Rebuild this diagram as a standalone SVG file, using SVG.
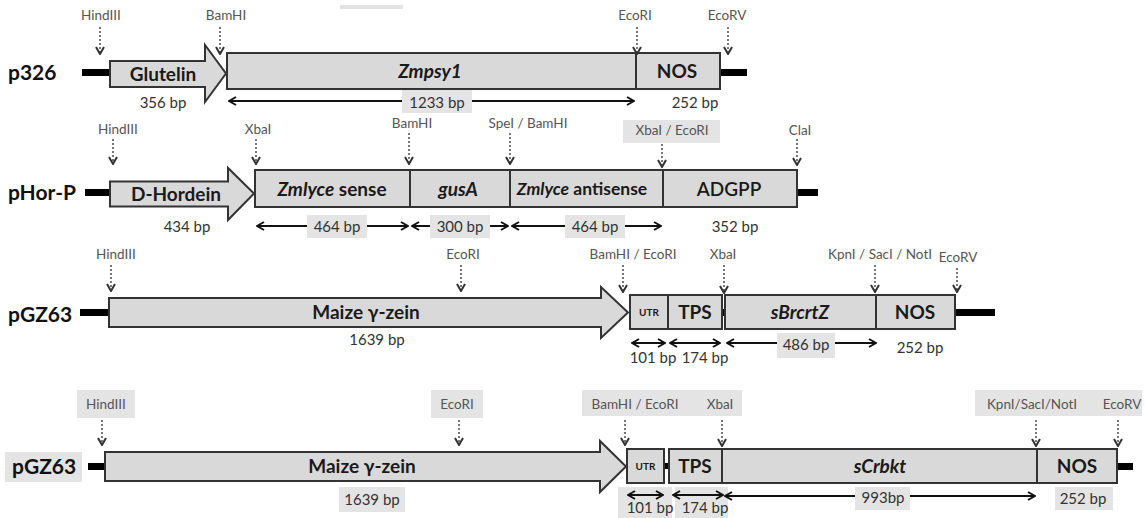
<svg xmlns="http://www.w3.org/2000/svg" width="1145" height="518" viewBox="0 0 1145 518">
<style>
text{font-family:Lato,"Liberation Sans",sans-serif}
.row{font-size:21px;font-weight:bold;fill:#111}
.gene{font-size:19px;font-weight:bold;fill:#1a1a1a;text-anchor:middle}
.it{font-style:italic}
.site{font-size:13.5px;fill:#555;text-anchor:middle}
.bp{font-size:15px;fill:#333;text-anchor:middle}
.box{fill:#d9d9d9;stroke:#333;stroke-width:2}
.bb{fill:#000}
.bg{fill:#e4e4e4}
.dot{stroke:#555;stroke-width:1.6;stroke-dasharray:2 2;fill:none;marker-end:url(#vch)}
.dbl{stroke:#111;stroke-width:2;fill:none;marker-start:url(#ch);marker-end:url(#ch)}
</style>
<defs>
<marker id="ch" viewBox="0 0 10 10" refX="9" refY="5" markerWidth="10" markerHeight="10" markerUnits="userSpaceOnUse" orient="auto-start-reverse">
<path d="M2,1 L9,5 L2,9" fill="none" stroke="#111" stroke-width="2"/>
</marker>
<marker id="vch" viewBox="0 0 10 10" refX="9" refY="5" markerWidth="10" markerHeight="10" markerUnits="userSpaceOnUse" orient="auto">
<path d="M2,1 L9,5 L2,9" fill="none" stroke="#333" stroke-width="2"/>
</marker>
</defs>
<rect x="340" y="5" width="63" height="4" fill="#e2e2e2"/>

<!-- Row 1: p326 -->
<g id="p326">
<text class="row" x="8" y="79.5">p326</text>
<rect class="bb" x="82" y="69" width="29" height="7"/>
<rect class="bb" x="719" y="69" width="28" height="7"/>
</g>
<g id="p326-glutelin">
<polygon class="box" points="110,61 205,61 205,45 226,73.5 205,102 205,87 110,87"/>
<text class="gene" x="163" y="80.5">Glutelin</text>
</g>
<g id="p326-zmpsy1">
<rect class="box" x="227" y="53" width="409" height="36"/>
<text class="gene it" x="430" y="78">Zmpsy1</text>
</g>
<g id="p326-nos">
<rect class="box" x="636" y="53" width="84" height="36"/>
<text class="gene" x="677" y="78">NOS</text>
</g>

<!-- Row 2: pHor-P -->
<g id="pHor-P">
<text class="row" x="8" y="199.5">pHor-P</text>
<rect class="bb" x="85" y="189" width="26" height="7"/>
<rect class="bb" x="796" y="189" width="22" height="7"/>
</g>
<g id="pHor-dhordein">
<polygon class="box" points="110,181.5 228,181.5 228,168 254,193.5 228,220 228,206.5 110,206.5"/>
<text class="gene" x="176" y="201">D-Hordein</text>
</g>
<g id="pHor-sense">
<rect class="box" x="255" y="170" width="155" height="37"/>
<text class="gene" x="332" y="196"><tspan class="it">Zmlyce</tspan> sense</text>
</g>
<g id="pHor-gusA">
<rect class="box" x="410" y="170" width="100" height="37"/>
<text class="gene it" x="458" y="196">gusA</text>
</g>
<g id="pHor-antisense">
<rect class="box" x="510" y="170" width="153" height="37"/>
<text class="gene" x="582" y="195" style="font-size:17.5px"><tspan class="it">Zmlyce</tspan> antisense</text>
</g>
<g id="pHor-adgpp">
<rect class="box" x="663" y="170" width="134" height="37"/>
<text class="gene" x="729" y="196" style="font-weight:600">ADGPP</text>
</g>

<!-- Row 3: pGZ63 -->
<g id="pGZ63-a">
<text class="row" x="8" y="321.5">pGZ63</text>
<rect class="bb" x="80" y="309" width="30" height="7"/>
<rect class="bb" x="954" y="309" width="41" height="7"/>
<rect class="bb" x="722" y="309" width="4" height="7"/>
</g>
<g id="pGZ63-a-zein">
<polygon class="box" points="109,298 601,298 601,287 628,312.5 601,338 601,327 109,327"/>
<text class="gene" x="366" y="319">Maize γ-zein</text>
</g>
<g id="pGZ63-a-utr">
<rect class="box" x="630" y="295" width="38" height="34"/>
<text class="gene" x="649" y="316" style="font-size:10px">UTR</text>
</g>
<g id="pGZ63-a-tps">
<rect class="box" x="668" y="295" width="54" height="34"/>
<text class="gene" x="695" y="319">TPS</text>
</g>
<g id="pGZ63-a-sbrcrtz">
<rect class="box" x="725" y="295" width="151" height="34"/>
<text class="gene it" x="800" y="319">sBrcrtZ</text>
</g>
<g id="pGZ63-a-nos">
<rect class="box" x="876" y="295" width="79" height="34"/>
<text class="gene" x="915" y="319">NOS</text>
</g>

<!-- Row 4: pGZ63 -->
<g id="pGZ63-b">
<rect class="bg" x="5" y="452" width="77" height="30"/>
<text class="row" x="12" y="474">pGZ63</text>
<rect class="bb" x="88" y="463" width="18" height="7"/>
<rect class="bb" x="1116" y="463" width="17" height="7"/>
<rect class="bb" x="664" y="463" width="5" height="6"/>
</g>
<g id="pGZ63-b-zein">
<polygon class="box" points="105,452 600,452 600,441 626,466.5 600,492 600,481 105,481"/>
<text class="gene" x="362" y="473">Maize γ-zein</text>
</g>
<g id="pGZ63-b-utr">
<rect class="box" x="627" y="449" width="37" height="34"/>
<text class="gene" x="645.5" y="470" style="font-size:10px">UTR</text>
</g>
<g id="pGZ63-b-tps">
<rect class="box" x="669" y="449" width="53" height="34"/>
<text class="gene" x="695" y="473">TPS</text>
</g>
<g id="pGZ63-b-scrbkt">
<rect class="box" x="722" y="449" width="315" height="34"/>
<text class="gene it" x="880" y="473">sCrbkt</text>
</g>
<g id="pGZ63-b-nos">
<rect class="box" x="1037" y="449" width="80" height="34"/>
<text class="gene" x="1077" y="473">NOS</text>
</g>
<g id="pGZ63-b-bp-bg">
<rect class="bg" x="618" y="487" width="54" height="31"/>
<rect class="bg" x="675" y="487" width="53" height="31"/>
</g>

<g id="connectors">
<!-- row 1 -->
<line class="dot" x1="100" y1="27" x2="100" y2="54"/>
<line class="dot" x1="220" y1="27" x2="220" y2="54"/>
<line class="dot" x1="637" y1="27" x2="637" y2="54"/>
<line class="dot" x1="728" y1="27" x2="728" y2="54"/>
<line class="dbl" x1="229" y1="101" x2="634" y2="101"/>
<!-- row 2 -->
<line class="dot" x1="113" y1="139" x2="113" y2="164"/>
<line class="dot" x1="256" y1="139" x2="256" y2="164"/>
<line class="dot" x1="409" y1="133" x2="409" y2="164"/>
<line class="dot" x1="510" y1="133" x2="510" y2="164"/>
<line class="dot" x1="662" y1="144" x2="662" y2="167"/>
<line class="dot" x1="797" y1="139" x2="797" y2="165"/>
<line class="dbl" x1="257" y1="226" x2="408" y2="226"/>
<line class="dbl" x1="412" y1="226" x2="508" y2="226"/>
<line class="dbl" x1="512" y1="226" x2="661" y2="226"/>
<!-- row 3 -->
<line class="dot" x1="111" y1="265" x2="111" y2="291"/>
<line class="dot" x1="461" y1="265" x2="461" y2="291"/>
<line class="dot" x1="623" y1="265" x2="623" y2="292"/>
<line class="dot" x1="724" y1="265" x2="724" y2="293"/>
<line class="dot" x1="875" y1="265" x2="875" y2="292"/>
<line class="dot" x1="957" y1="268" x2="957" y2="292"/>
<line class="dbl" x1="632" y1="343" x2="665" y2="343"/>
<line class="dbl" x1="670" y1="343" x2="720" y2="343"/>
<line class="dbl" x1="727" y1="343" x2="876" y2="343"/>
<!-- row 4 -->
<line class="dot" x1="102" y1="420" x2="102" y2="445"/>
<line class="dot" x1="459" y1="420" x2="459" y2="445"/>
<line class="dot" x1="625" y1="420" x2="625" y2="445"/>
<line class="dot" x1="722" y1="420" x2="722" y2="446"/>
<line class="dot" x1="1036" y1="420" x2="1036" y2="446"/>
<line class="dot" x1="1118" y1="420" x2="1118" y2="446"/>
<line class="dbl" x1="628" y1="495" x2="663" y2="495"/>
<line class="dbl" x1="673" y1="495" x2="723" y2="495"/>
<line class="dbl" x1="725" y1="496" x2="1035" y2="496"/>
</g>

<g id="p326-labels">
<text class="site" x="101" y="20">HindIII</text>
<text class="site" x="226" y="20">BamHI</text>
<text class="site" x="635" y="20">EcoRI</text>
<text class="site" x="727" y="20">EcoRV</text>
<text class="bp" x="163" y="108">356 bp</text>
<rect class="bg" x="402" y="90" width="70" height="23"/>
<text class="bp" x="437" y="108">1233 bp</text>
<text class="bp" x="695" y="108">252 bp</text>
</g>
<g id="pHor-labels">
<text class="site" x="118" y="133.5">HindIII</text>
<text class="site" x="258" y="133.5">XbaI</text>
<text class="site" x="412" y="128">BamHI</text>
<text class="site" x="528" y="128">SpeI / BamHI</text>
<rect class="bg" x="623" y="120" width="97" height="23"/>
<text class="site" x="672" y="135">XbaI / EcoRI</text>
<text class="site" x="800" y="135">ClaI</text>
<text class="bp" x="187" y="232">434 bp</text>
<rect class="bg" x="307" y="215" width="60" height="23"/>
<text class="bp" x="337" y="232">464 bp</text>
<rect class="bg" x="430" y="215" width="60" height="23"/>
<text class="bp" x="460" y="232">300 bp</text>
<rect class="bg" x="565" y="215" width="60" height="23"/>
<text class="bp" x="595" y="232">464 bp</text>
<text class="bp" x="735" y="232">352 bp</text>
</g>
<g id="pGZ63-a-labels">
<text class="site" x="116" y="258.5">HindIII</text>
<text class="site" x="463" y="258.5">EcoRI</text>
<text class="site" x="633" y="258.5">BamHI / EcoRI</text>
<text class="site" x="723" y="258.5">XbaI</text>
<text class="site" x="880" y="258.5">KpnI / SacI / NotI</text>
<text class="site" x="958" y="262">EcoRV</text>
<text class="bp" x="377" y="345">1639 bp</text>
<text class="bp" x="653" y="363">101 bp</text>
<text class="bp" x="705" y="363">174 bp</text>
<rect class="bg" x="777" y="333" width="58" height="25"/>
<text class="bp" x="806" y="350">486 bp</text>
<text class="bp" x="920" y="353">252 bp</text>
</g>
<g id="pGZ63-b-labels">
<rect class="bg" x="77" y="390" width="58" height="28"/>
<text class="site" x="106" y="408.5">HindIII</text>
<rect class="bg" x="431" y="390" width="52" height="28"/>
<text class="site" x="457" y="408.5">EcoRI</text>
<rect class="bg" x="582" y="390" width="160" height="26"/>
<text class="site" x="635" y="408.5">BamHI / EcoRI</text>
<text class="site" x="720" y="408.5">XbaI</text>
<rect class="bg" x="975" y="390" width="167" height="26"/>
<text class="site" x="1032" y="408.5">KpnI/SacI/NotI</text>
<text class="site" x="1122" y="408.5">EcoRV</text>
<rect class="bg" x="339" y="487" width="66" height="25"/>
<text class="bp" x="372" y="505">1639 bp</text>
<text class="bp" x="650" y="513">101 bp</text>
<text class="bp" x="705" y="513">174 bp</text>
<rect class="bg" x="855" y="487" width="55" height="23"/>
<text class="bp" x="883" y="503">993bp</text>
<rect class="bg" x="1055" y="487" width="58" height="23"/>
<text class="bp" x="1083" y="504">252 bp</text>
</g>
</svg>
